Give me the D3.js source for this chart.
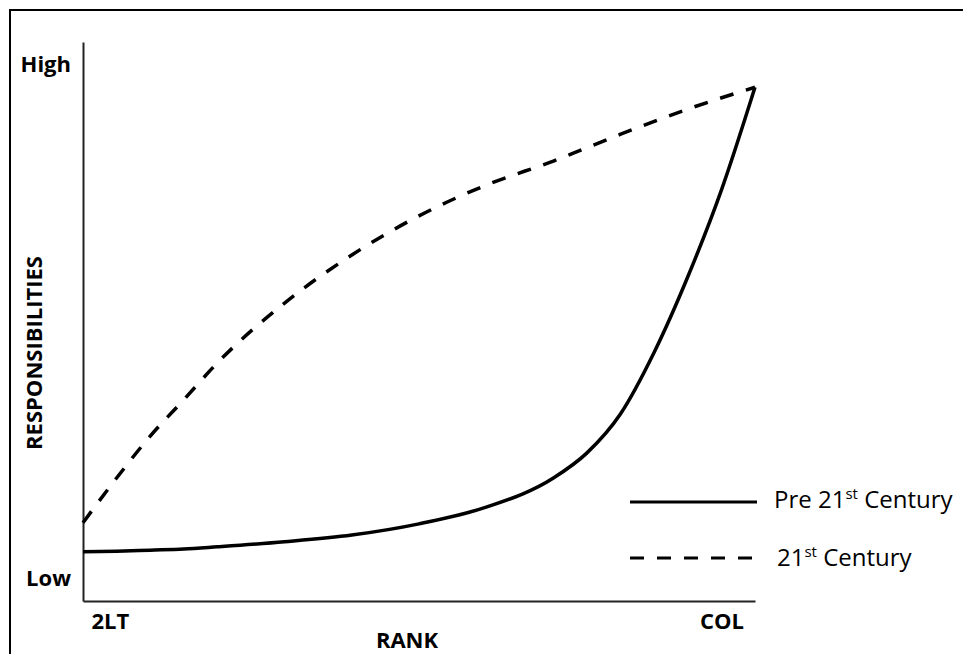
<!DOCTYPE html>
<html>
<head>
<meta charset="utf-8">
<script src="https://cdn.jsdelivr.net/npm/d3@7"></script>
<style>
  html, body { margin: 0; padding: 0; background: #fff; }
  svg { display: block; }
</style>
</head>
<body>
<svg id="chart" width="963" height="654"></svg>
<script>
// ---- data ----
const rankValues = [0, 5, 10, 15, 20, 30, 40, 50, 60, 70, 75, 80, 85, 90, 95, 100];
const pre21st =    [8.8, 8.9, 9.1, 9.3, 9.7, 10.6, 11.8, 13.8, 16.8, 22.0, 26.5, 33.5, 44.5, 58.0, 73.5, 91.9];
const rankValues21 = [0, 5, 10, 15, 20, 30, 40, 50, 60, 70, 80, 90, 100];
const c21st =        [14.0, 22.0, 29.5, 36.0, 42.6, 53.3, 61.9, 68.9, 74.4, 78.7, 83.5, 88.0, 91.9];
const xTickValues = [4, 95];
const xTickLabels = ["2LT", "COL"];
const yTickValues = [4, 96];
const yTickLabels = ["Low", "High"];
const legendLabels = [["Pre 21", "st", " Century"], ["21", "st", " Century"]];
const xTitle = "RANK";
const yTitle = "RESPONSIBILITIES";

// ---- layout ----
const svg = d3.select("#chart");
const plotLeft = 83, plotRight = 755, plotTop = 42, plotBottom = 601;
const x = d3.scaleLinear().domain([0, 100]).range([plotLeft, plotRight]);
const y = d3.scaleLinear().domain([0, 100]).range([plotBottom, plotTop]);

// frame (top and left edges visible; rest cropped)
svg.append("rect").attr("x", 10).attr("y", 10).attr("width", 1000).attr("height", 700)
  .attr("fill", "none").attr("stroke", "#000").attr("stroke-width", 2);

const boldFont = "'Open Sans', 'DejaVu Sans', sans-serif";

// axes
const xAxis = d3.axisBottom(x).tickValues(xTickValues)
  .tickFormat((d, i) => xTickLabels[i]).tickSize(0).tickSizeOuter(0).tickPadding(12);
const gx = svg.append("g").attr("transform", `translate(0,${plotBottom})`).call(xAxis);
gx.select(".domain").attr("stroke", "#222").attr("stroke-width", 2);
gx.selectAll("text").attr("font-family", boldFont).attr("font-weight", "bold")
  .attr("font-size", 22).attr("fill", "#000");

const yAxis = d3.axisLeft(y).tickValues(yTickValues)
  .tickFormat((d, i) => yTickLabels[i]).tickSize(0).tickSizeOuter(0).tickPadding(12);
const gy = svg.append("g").attr("transform", `translate(${plotLeft},0)`).call(yAxis);
gy.select(".domain").attr("stroke", "#222").attr("stroke-width", 2);
gy.selectAll("text").attr("font-family", boldFont).attr("font-weight", "bold")
  .attr("font-size", 22).attr("fill", "#000");

// axis titles
svg.append("text").attr("x", 407).attr("y", 648).attr("text-anchor", "middle")
  .attr("font-family", boldFont).attr("font-weight", "bold").attr("font-size", 22).text(xTitle);
svg.append("text").attr("transform", "translate(42,353) rotate(-90)").attr("text-anchor", "middle")
  .attr("font-family", boldFont).attr("font-weight", "bold").attr("font-size", 22).text(yTitle);

// curves
const line = d3.line().x(d => x(d[0])).y(d => y(d[1])).curve(d3.curveMonotoneX);
svg.append("path").datum(rankValues.map((r, i) => [r, pre21st[i]]))
  .attr("d", line).attr("fill", "none").attr("stroke", "#000").attr("stroke-width", 3.5);
svg.append("path").datum(rankValues21.map((r, i) => [r, c21st[i]]))
  .attr("d", line).attr("fill", "none").attr("stroke", "#000").attr("stroke-width", 3.5)
  .attr("stroke-dasharray", "14,13");

// legend
const legendY = [502, 558];
const legendDash = [null, "14,13"];
legendLabels.forEach((parts, i) => {
  svg.append("line").attr("x1", 630).attr("x2", 757).attr("y1", legendY[i]).attr("y2", legendY[i])
    .attr("stroke", "#000").attr("stroke-width", 3).attr("stroke-dasharray", legendDash[i]);
  const t = svg.append("text").attr("x", i === 0 ? 774 : 777).attr("y", legendY[i] + 6 + (i === 1 ? 2 : 0))
    .attr("font-family", "'Open Sans', sans-serif").attr("font-size", 24).attr("fill", "#000");
  t.append("tspan").text(parts[0]);
  t.append("tspan").attr("font-size", 15).attr("dy", -9).text(parts[1]);
  t.append("tspan").attr("font-size", 24).attr("dy", 9).text(parts[2]);
});
</script>
</body>
</html>
